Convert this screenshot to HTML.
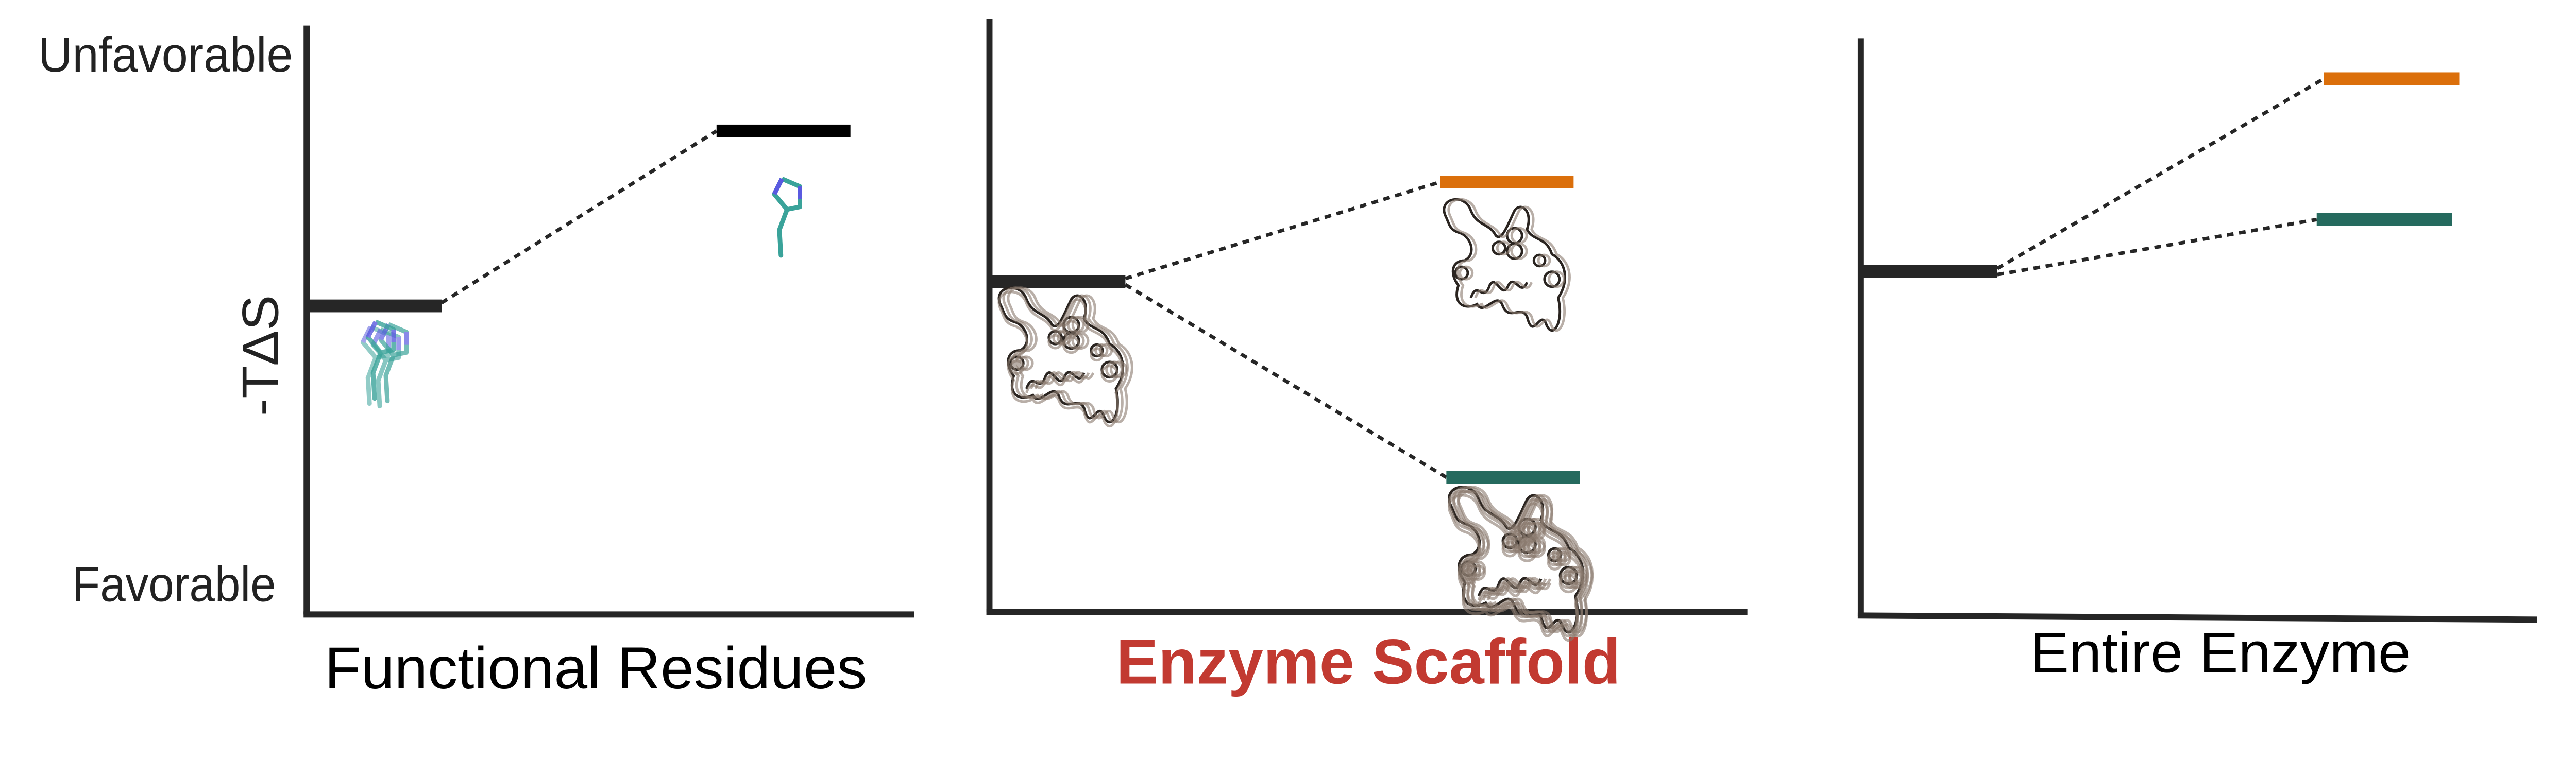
<!DOCTYPE html>
<html>
<head>
<meta charset="utf-8">
<style>
  html, body { margin: 0; padding: 0; background: #ffffff; }
  svg { display: block; }
  text { font-family: "Liberation Sans", "DejaVu Sans", sans-serif; }
</style>
</head>
<body>
<svg id="chart" xmlns="http://www.w3.org/2000/svg" width="5031" height="1507" viewBox="0 0 5031 1507">
  <rect x="0" y="0" width="5031" height="1507" fill="#ffffff"/>
<g transform="scale(0.992)">
  <!-- Axes -->
  <g>
    <line x1="600" y1="50" x2="600" y2="1203" stroke="#262626" stroke-width="12"/>
    <line x1="594" y1="1203" x2="1789" y2="1203" stroke="#262626" stroke-width="12"/>
  </g>
  <g>
    <line x1="1936" y1="37" x2="1936" y2="1198" stroke="#262626" stroke-width="12"/>
    <line x1="1930" y1="1198" x2="3419" y2="1198" stroke="#262626" stroke-width="12"/>
  </g>
  <g>
    <line x1="3641" y1="75" x2="3641" y2="1206" stroke="#262626" stroke-width="12"/>
    <line x1="3635" y1="1205" x2="4964" y2="1213" stroke="#262626" stroke-width="12"/>
  </g>

  <!-- Y labels -->
  <text x="573" y="140" font-size="96" fill="#222" text-anchor="end" textLength="498" lengthAdjust="spacingAndGlyphs">Unfavorable</text>
  <text x="540" y="1177" font-size="96" fill="#222" text-anchor="end" textLength="399" lengthAdjust="spacingAndGlyphs">Favorable</text>
  <text transform="translate(544,696) rotate(-90)" x="0" y="0" font-size="100" fill="#222" text-anchor="middle" textLength="237" lengthAdjust="spacingAndGlyphs">-TΔS</text>

  <!-- Panel titles -->
  <text x="635" y="1348" font-size="116" fill="#000" textLength="1061" lengthAdjust="spacingAndGlyphs">Functional Residues</text>
  <text x="2184" y="1338" font-size="124" font-weight="bold" fill="#c23a31" textLength="987" lengthAdjust="spacingAndGlyphs">Enzyme Scaffold</text>
  <text x="3972" y="1316" font-size="112" fill="#000" textLength="745" lengthAdjust="spacingAndGlyphs">Entire Enzyme</text>

  <g id="connectors"></g>
  <g id="bars"></g>
  <g id="structures"></g>
</g>
</svg>

<script>
// ---- Data: -TΔS level (0 = favorable, 100 = unfavorable) ----
const panelNames = ["functional-residues", "enzyme-scaffold", "entire-enzyme"];
const initialLevels = [52.4, 55.7, 59.6];
const finalLevelsA = [82.1, 72.5, 93.0];   // black / orange
const finalLevelsB = [null, 22.7, 68.6];   // teal
const finalNamesA = ["unbound-state", "orange-state", "orange-state"];
const finalNamesB = [null, "teal-state", "teal-state"];

// ---- Layout (not data) ----
const layout = [
  { top: 50, bottom: 1203, x0: 602, x1A: 1402, x1B: null, w: 262, colA: "#000000", colB: null },
  { top: 37, bottom: 1198, x0: 1941, x1A: 2818, x1B: 2830, w: 261, colA: "#db6f0b", colB: "#256a5e" },
  { top: 75, bottom: 1205, x0: 3643, x1A: 4547, x1B: 4533, w: 265, colA: "#db6f0b", colB: "#256a5e" }
];
const barH = 25;
const NS = "http://www.w3.org/2000/svg";
const barsG = document.getElementById("bars");
const connG = document.getElementById("connectors");

function yScale(p, v) {
  const L = layout[p];
  return L.bottom - v / 100 * (L.bottom - L.top);
}
function bar(x, y, w, color, name) {
  const r = document.createElementNS(NS, "rect");
  r.setAttribute("x", x);
  r.setAttribute("y", y - barH / 2);
  r.setAttribute("width", w);
  r.setAttribute("height", barH);
  r.setAttribute("fill", color);
  
  
  barsG.appendChild(r);
}
function dash(x1, y1, x2, y2, name) {
  const l = document.createElementNS(NS, "line");
  l.setAttribute("x1", x1); l.setAttribute("y1", y1);
  l.setAttribute("x2", x2); l.setAttribute("y2", y2);
  l.setAttribute("stroke", "#262626");
  l.setAttribute("stroke-width", 7);
  l.setAttribute("stroke-dasharray", "13 11");
  
  
  connG.appendChild(l);
}

for (let p = 0; p < panelNames.length; p++) {
  const L = layout[p];
  const y0 = yScale(p, initialLevels[p]);
  bar(L.x0, y0, L.w, "#262626", "initial-level-" + panelNames[p]);
  const yA = yScale(p, finalLevelsA[p]);
  bar(L.x1A, yA, L.w, L.colA, finalNamesA[p] + "-" + panelNames[p]);
  dash(L.x0 + L.w, y0 - 6, L.x1A, yA, "connector-a-" + panelNames[p]);
  if (finalLevelsB[p] !== null) {
    const yB = yScale(p, finalLevelsB[p]);
    bar(L.x1B, yB, L.w, L.colB, finalNamesB[p] + "-" + panelNames[p]);
    dash(L.x0 + L.w, y0 + 6, L.x1B, yB, "connector-b-" + panelNames[p]);
  }
}

// ---- Decorative molecular structures ----
const sG = document.getElementById("structures");
function residue(cx, cy, s, opacity, name) {
  const g = document.createElementNS(NS, "g");
  g.setAttribute("transform", `translate(${cx},${cy}) scale(${s})`);
  g.setAttribute("opacity", opacity);
  
  
  g.innerHTML =
    '<polyline points="0,-70 35,-55 35,-15 10,-10 -15,-40 0,-70" fill="none" stroke="#3aa39a" stroke-width="9" stroke-linejoin="round"/>' +
    '<polyline points="-15,-40 0,-70" fill="none" stroke="#5a5ae0" stroke-width="9"/>' +
    '<polyline points="35,-55 35,-30" fill="none" stroke="#5a5ae0" stroke-width="9"/>' +
    '<polyline points="10,-10 -5,30 -2,80" fill="none" stroke="#3aa39a" stroke-width="9" stroke-linecap="round"/>';
  sG.appendChild(g);
}
residue(1530, 420, 1.0, 1, "residue-unbound");
residue(725, 710, 1.0, 0.55, "residue-conformer-1");
residue(745, 715, 1.0, 0.6, "residue-conformer-2");
residue(760, 705, 1.0, 0.7, "residue-conformer-3");
residue(735, 700, 1.0, 0.8, "residue-conformer-4");

function protein(x, y, s, copies, name) {
  const g = document.createElementNS(NS, "g");
  
  
  let html = "";
  for (let k = 0; k < copies; k++) {
    const dx = (k % 3) * 9 - 9, dy = Math.floor(k / 3) * 8 - 4;
    const col = k === 0 ? "#2a2420" : "#8a7a6e";
    html += `<g transform="translate(${x + dx},${y + dy}) scale(${s})" fill="none" stroke="${col}" stroke-width="4" opacity="${k === 0 ? 1 : 0.6}">` +
      '<path d="M10,30 C-5,0 40,-10 50,20 C60,45 80,40 90,60 C100,70 110,40 120,20 C130,5 150,20 140,50 C150,70 170,60 180,90 C200,100 210,130 190,160 C200,200 180,230 170,200 C160,180 150,230 140,190 C130,170 110,200 100,170 C90,150 70,190 60,170 C40,180 20,170 30,140 C15,120 20,100 40,100 C60,90 50,60 30,55 C15,50 15,40 10,30 Z"/>' +
      '<circle cx="120" cy="60" r="12"/><circle cx="120" cy="85" r="12"/><circle cx="95" cy="80" r="10"/>' +
      '<circle cx="35" cy="120" r="10"/><circle cx="180" cy="130" r="12"/><circle cx="160" cy="100" r="9"/>' +
      '<path d="M50,160 C60,130 70,170 80,140 C90,120 100,165 110,140 C120,120 130,160 140,135"/>' +
      '</g>';
  }
  g.innerHTML = html;
  sG.appendChild(g);
}
protein(1955, 565, 1.25, 4, "protein-initial-ensemble");
protein(2826, 392, 1.22, 2, "protein-orange-state");
protein(2835, 955, 1.35, 7, "protein-teal-ensemble");
</script>
</body>
</html>
